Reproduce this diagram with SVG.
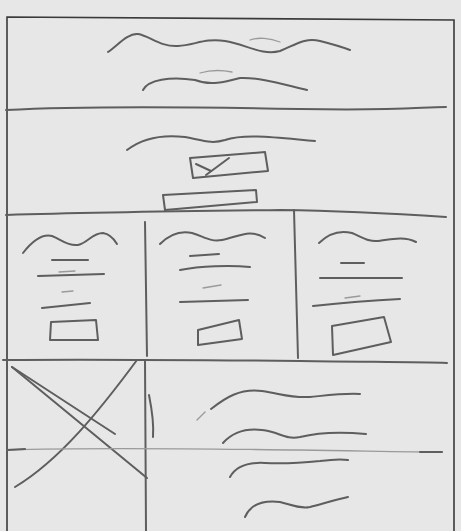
<svg xmlns="http://www.w3.org/2000/svg" width="461" height="531" viewBox="0 0 461 531">
<style>
.p{fill:none;stroke:#5e5e5e;stroke-width:2;stroke-linecap:round;stroke-linejoin:round}
.f{fill:none;stroke:#9a9a9a;stroke-width:1.3;stroke-linecap:round}
.b{fill:none;stroke:#3a3a3a;stroke-width:1.6}
</style>
<rect width="461" height="531" fill="#e7e7e7"/>
<g id="frame">
<path class="b" d="M7,540 L7,17 L454,20 L454,540"/>
</g>
<g id="header">
<path class="p" d="M6,110 C80,106 200,107 300,109 S420,107 446,107"/>
<path class="p" d="M108,52 C118,45 128,33 138,34 C150,36 160,47 178,46 C195,45 205,38 225,41 C245,44 262,56 280,51 C295,45 305,37 320,41 C332,44 342,47 350,50"/>
<path class="f" d="M250,40 C258,37 270,38 280,42"/>
<path class="p" d="M143,90 C148,80 170,76 195,80 C210,86 225,82 240,78 C260,77 285,85 307,90"/>
<path class="f" d="M200,73 C210,70 222,70 232,72"/>
</g>
<g id="hero">
<path class="p" d="M127,150 C140,140 160,134 185,137 C205,141 212,144 225,140 C245,133 280,138 315,141"/>
<path class="p" d="M190,158 L265,152 L268,171 L193,178 Z"/>
<path class="p" d="M196,164 L211,171 M206,175 L229,158"/>
<path class="p" d="M163,195 L256,190 L257,202 L165,210 Z"/>
<path class="p" d="M6,215 C100,212 200,211 280,210 C350,211 400,214 446,217"/>
</g>
<g id="columns">
<path class="p" d="M145,222 L147,356"/>
<path class="p" d="M294,210 L298,358"/>
</g>
<g id="col1">
<path class="p" d="M23,253 C30,244 40,233 52,236 C62,240 68,246 78,245 C88,243 92,233 103,233 C110,234 114,239 117,244"/>
<path class="p" d="M52,260 L88,260"/>
<path class="p" d="M38,276 L104,274"/>
<path class="f" d="M59,272 L75,271"/>
<path class="f" d="M62,292 L73,291"/>
<path class="p" d="M42,308 L90,303"/>
<path class="p" d="M51,322 L96,320 L98,340 L50,340 Z"/>
</g>
<g id="col2">
<path class="p" d="M160,244 C168,236 178,230 192,233 C205,237 210,242 222,240 C238,237 250,228 265,238"/>
<path class="p" d="M190,256 L219,254"/>
<path class="p" d="M180,270 C200,266 230,265 250,267"/>
<path class="f" d="M203,288 L221,285"/>
<path class="p" d="M180,302 L248,300"/>
<path class="p" d="M198,330 L239,320 L242,339 L198,345 Z"/>
</g>
<g id="col3">
<path class="p" d="M319,243 C328,234 340,230 352,233 C362,237 368,242 378,241 C392,239 405,236 416,242"/>
<path class="p" d="M341,263 L364,263"/>
<path class="p" d="M320,278 L402,278"/>
<path class="f" d="M345,298 L360,296"/>
<path class="p" d="M313,306 C350,302 380,300 400,299"/>
<path class="p" d="M332,326 L384,317 L391,342 L333,355 Z"/>
</g>
<g id="footer">
<path class="p" d="M3,360 C100,359 200,360 300,361 C370,362 420,362 447,363"/>
<path class="p" d="M145,360 L146,531"/>
<path class="p" d="M149,395 C152,410 154,424 153,437"/>
<path class="p" d="M12,367 L115,434"/>
<path class="p" d="M12,367 L147,478"/>
<path class="p" d="M15,487 C60,460 100,410 137,360"/>
<path class="f" d="M7,450 C100,447 200,449 300,450 C370,451 410,452 442,452"/>
<path class="p" d="M7,450 L25,449"/>
<path class="p" d="M420,452 L442,452"/>
<path class="p" d="M211,409 C225,398 240,388 262,391 C282,394 290,398 310,397 C330,395 345,393 360,394"/>
<path class="f" d="M197,420 L205,412"/>
<path class="p" d="M223,443 C232,433 245,428 262,430 C280,432 285,440 300,437 C320,432 345,432 366,434"/>
<path class="p" d="M230,477 C236,466 248,462 265,463 C285,464 300,463 320,461 C335,459 342,459 348,460"/>
<path class="p" d="M245,517 C250,505 262,500 280,502 C292,505 300,509 310,507 C325,503 338,499 348,497"/>
</g>
</svg>
